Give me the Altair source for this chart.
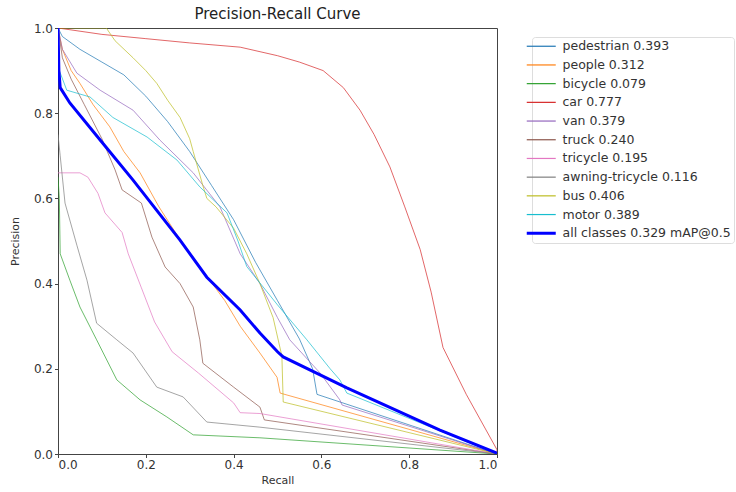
import altair as alt
import pandas as pd

names = ["pedestrian 0.393", "people 0.312", "bicycle 0.079", "car 0.777", "van 0.379",
         "truck 0.240", "tricycle 0.195", "awning-tricycle 0.116", "bus 0.406", "motor 0.389",
         "all classes 0.329 mAP@0.5"]
colors = ["#1f77b4", "#ff7f0e", "#2ca02c", "#d62728", "#9467bd", "#8c564b", "#e377c2",
          "#7f7f7f", "#bcbd22", "#17becf", "#0000ff"]
widths = [1, 1, 1, 1, 1, 1, 1, 1, 1, 1, 3]

pedestrian_r = [0, 0.01, 0.05, 0.1, 0.15, 0.2, 0.25, 0.3, 0.35, 0.4, 0.45, 0.5, 0.55, 0.58, 0.59, 1.0]
pedestrian_p = [1, 0.98, 0.95, 0.92, 0.89, 0.84, 0.78, 0.71, 0.63, 0.55, 0.45, 0.36, 0.27, 0.2, 0.14, 0.0]
people_r = [0, 0.01, 0.03, 0.05, 0.08, 0.118, 0.15, 0.187, 0.23, 0.28, 0.33, 0.38, 0.415, 0.46, 0.499, 0.506, 1.0]
people_p = [1, 0.95, 0.9, 0.87, 0.82, 0.768, 0.71, 0.66, 0.58, 0.5, 0.43, 0.36, 0.3, 0.237, 0.18, 0.143, 0.0]
bicycle_r = [0, 0.003, 0.005, 0.027, 0.05, 0.088, 0.134, 0.187, 0.248, 0.308, 0.46, 1.0]
bicycle_p = [0.65, 0.6, 0.47, 0.408, 0.345, 0.268, 0.174, 0.127, 0.087, 0.045, 0.038, 0.0]
car_r = [0, 0.1, 0.2, 0.3, 0.415, 0.5, 0.55, 0.604, 0.65, 0.688, 0.72, 0.756, 0.79, 0.825, 0.85, 0.877, 0.93, 1.0, 1.0]
car_p = [1, 0.985, 0.975, 0.965, 0.955, 0.935, 0.92, 0.9, 0.86, 0.807, 0.75, 0.674, 0.58, 0.48, 0.38, 0.25, 0.14, 0.01, 0.0]
van_r = [0, 0.01, 0.043, 0.096, 0.171, 0.232, 0.308, 0.369, 0.415, 0.46, 0.5, 0.528, 0.597, 0.642, 0.647, 1.0]
van_p = [1, 0.95, 0.894, 0.854, 0.807, 0.737, 0.66, 0.58, 0.47, 0.4, 0.32, 0.268, 0.19, 0.127, 0.115, 0.0]
truck_r = [0, 0.01, 0.03, 0.06, 0.1, 0.13, 0.146, 0.19, 0.214, 0.244, 0.278, 0.308, 0.323, 0.33, 0.4, 0.46, 0.47, 1.0]
truck_p = [1, 0.93, 0.88, 0.82, 0.74, 0.667, 0.62, 0.589, 0.509, 0.439, 0.4, 0.345, 0.268, 0.213, 0.157, 0.11, 0.08, 0.0]
tricycle_r = [0, 0.05, 0.068, 0.091, 0.107, 0.146, 0.16, 0.19, 0.22, 0.26, 0.32, 0.4, 0.415, 0.46, 1.0]
tricycle_p = [0.66, 0.66, 0.65, 0.612, 0.566, 0.52, 0.47, 0.39, 0.31, 0.24, 0.19, 0.12, 0.097, 0.095, 0.0]
awning_r = [0, 0.005, 0.016, 0.043, 0.066, 0.088, 0.134, 0.171, 0.225, 0.285, 0.339, 0.46, 1.0]
awning_p = [0.75, 0.7, 0.589, 0.49, 0.408, 0.307, 0.268, 0.237, 0.157, 0.134, 0.075, 0.063, 0.0]
bus_r = [0, 0.11, 0.13, 0.171, 0.2, 0.225, 0.25, 0.278, 0.3, 0.308, 0.33, 0.339, 0.36, 0.4, 0.43, 0.46, 0.49, 0.51, 0.513, 1.0]
bus_p = [1, 1.0, 0.97, 0.93, 0.9, 0.87, 0.83, 0.79, 0.74, 0.71, 0.63, 0.6, 0.58, 0.53, 0.47, 0.4, 0.32, 0.23, 0.122, 0.0]
motor_r = [0, 0.003, 0.02, 0.073, 0.125, 0.203, 0.271, 0.323, 0.385, 0.41, 0.43, 0.5, 0.567, 0.62, 0.642, 0.658, 1.0]
motor_p = [1, 0.9, 0.854, 0.838, 0.79, 0.744, 0.69, 0.627, 0.566, 0.5, 0.44, 0.35, 0.268, 0.2, 0.174, 0.143, 0.0]
all_r = [0, 0.002, 0.005, 0.027, 0.096, 0.171, 0.278, 0.339, 0.415, 0.46, 0.5, 0.513, 0.658, 0.87, 1.0]
all_p = [1, 0.9, 0.86, 0.824, 0.737, 0.643, 0.502, 0.415, 0.338, 0.284, 0.24, 0.228, 0.155, 0.056, 0.002]

series = [(pedestrian_r, pedestrian_p), (people_r, people_p), (bicycle_r, bicycle_p),
          (car_r, car_p), (van_r, van_p), (truck_r, truck_p), (tricycle_r, tricycle_p),
          (awning_r, awning_p), (bus_r, bus_p), (motor_r, motor_p), (all_r, all_p)]

rows = []
for name, w, (rr, pp) in zip(names, widths, series):
    for i, (r, p) in enumerate(zip(rr, pp)):
        rows.append({"cls": name, "recall": r, "precision": p, "i": i, "w": w})
df = pd.DataFrame(rows)

color_scale = alt.Scale(domain=names, range=colors)
leg = alt.Legend(
    title=None, orient="none", legendX=474, legendY=9, symbolType="stroke",
    symbolSize=841, labelFontSize=12.5, labelFont="DejaVu Sans", labelColor="#333",
    rowPadding=5.7, padding=3, strokeColor="#dddddd", cornerRadius=3, fillColor="white",
    labelLimit=400, symbolOpacity=1, labelOffset=15,
    symbolStrokeWidth=alt.ExprRef("datum.value == '" + names[-1] + "' ? 3 : 1.2"),
)

base = alt.Chart(df).mark_line(clip=True).encode(
    x=alt.X("recall:Q", scale=alt.Scale(domain=[0, 1], nice=False), title="Recall",
            axis=alt.Axis(values=[0, 0.2, 0.4, 0.6, 0.8, 1.0], format=".1f", grid=False)),
    y=alt.Y("precision:Q", scale=alt.Scale(domain=[0, 1], nice=False), title="Precision",
            axis=alt.Axis(values=[0, 0.2, 0.4, 0.6, 0.8, 1.0], format=".1f", grid=False,
                          titlePadding=13)),
    color=alt.Color("cls:N", scale=color_scale, legend=leg, sort=names),
    strokeWidth=alt.StrokeWidth("w:Q", scale=None),
    order="i:Q",
)

classes = base.transform_filter(alt.datum.cls != names[-1]).encode(opacity=alt.value(0.7))
allc = base.transform_filter(alt.datum.cls == names[-1])

chart = alt.layer(classes, allc).properties(
    width=439, height=426,
    title=alt.TitleParams("Precision-Recall Curve", fontSize=15, font="DejaVu Sans",
                          fontWeight="normal", color="#222", offset=0),
    autosize=alt.AutoSizeParams(type="none"),
    padding={"left": 58, "top": 28, "right": 239, "bottom": 38},
).configure_view(stroke="#444", strokeWidth=1).configure_axis(
    labelFont="DejaVu Sans", titleFont="DejaVu Sans", labelFontSize=12, titleFontSize=11,
    titleFontWeight="normal", labelColor="#333", titleColor="#333", domainColor="#444",
    tickColor="#444", tickSize=3.5, labelPadding=2,
)

chart.save("out.html", embed_options={"renderer": "svg", "actions": False})
